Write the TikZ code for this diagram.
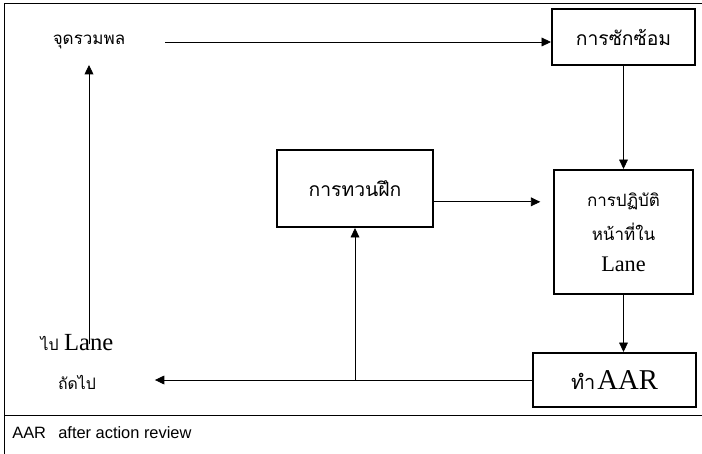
\documentclass[tikz,border=0pt]{standalone}
\usepackage{fontspec}
\setmainfont{Liberation Serif}
\setsansfont{Liberation Sans}
\newfontfamily\thai[Script=Thai]{Loma}
\usetikzlibrary{arrows.meta}

\begin{document}
\begin{tikzpicture}[x=0.03cm, y=-0.03cm, >={Triangle[length=8pt, width=7.5pt]},
                    box/.style={draw, rectangle, line width=1.8pt, align=center, inner sep=0pt},
                    every path/.style={line width=0.7pt}]
                \useasboundingbox (0,0) rectangle (702,454);

                % frame and footer
                \draw (4,454) -- (4,3) -- (702,3);
                \draw (4,415) -- (702,415);
                \node[anchor=west, font=\sffamily\fontsize{14}{16}\selectfont] (F) at (8,433) {AAR\hspace{0.75em}after action review};

                \node (G) at (89,42) {\thai\fontsize{14.5}{16}\selectfont จุดรวมพล};
                \node[box, minimum width=4.29cm, minimum height=1.68cm] (S) at (623.5,37) {\thai\fontsize{16.5}{18}\selectfont การซักซ้อม};
                \node[box, minimum width=4.68cm, minimum height=2.31cm] (T) at (355,188.5) {\thai\fontsize{16.5}{18}\selectfont การทวนฝึก};
                \node[box, minimum width=4.17cm, minimum height=3.72cm, font=\fontsize{14.5}{17}\selectfont] (P) at (623.5,232)
                    {{\thai การปฏิบัติ}\\[11pt] {\thai หน้าที่ใน}\\[9pt] {\fontsize{19}{20}\selectfont Lane}};
                \node[box, minimum width=4.89cm, minimum height=1.62cm] (A) at (614.5,380)
                    {{\thai\fontsize{17}{20}\selectfont ทำ}\,{\fontsize{24.5}{28}\selectfont AAR}};
                \node[align=center, font=\fontsize{13.5}{16}\selectfont] (N) at (77,362)
                    {{\thai ไป}\hspace{0.35em}{\fontsize{21}{24}\selectfont Lane}\\[17pt] {\thai ถัดไป}};

                \draw[->] (G.center) ++(76,0) -- (S.west |- G);
                \draw[->] (S) -- (P);
                \draw[->, shorten >=0.38cm] ([yshift=-0.4cm]T.east) -- ([yshift=-0.4cm]T.east -| P.west);
                \draw[->] (P.south) -- (P.south |- A.north);
                \draw[->] (A.west) -- ++(-377,0);
                \draw[->] (A.west -| T) -- (T.south);
                \draw[->, shorten <=-0.42cm, shorten >=0.35cm] (N.north -| G) -- (G.south);
            \end{tikzpicture}
\end{document}
